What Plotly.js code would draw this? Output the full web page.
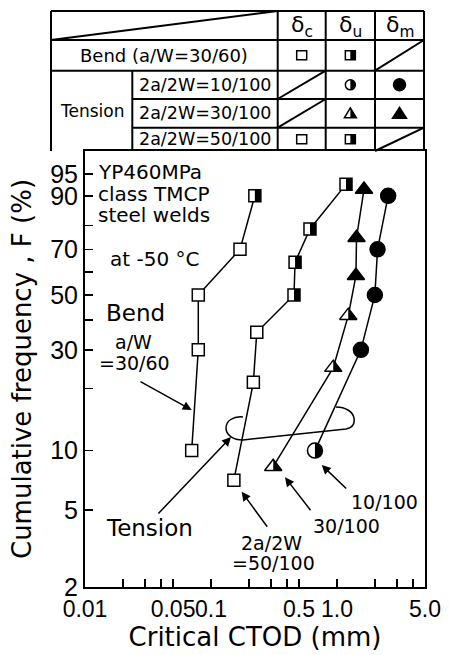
<!DOCTYPE html>
<html><head><meta charset="utf-8">
<script src="https://cdn.plot.ly/plotly-3.0.1.min.js"></script>
<style>html,body{margin:0;padding:0;background:#fff}#chart{width:449px;height:655px}</style>
</head><body><div id="chart"></div>
<script>
// ---------------- data ----------------
// Bend, a/W = 30/60   (kind: c = delta_c, u = delta_u, m = delta_m)
const bendCTOD = [0.0703, 0.0793, 0.0793, 0.170, 0.223];
const bendFreq = [10, 30, 50, 70, 90];
const bendKind = ['c', 'c', 'c', 'c', 'u'];
// Tension, 2a/2W = 50/100
const t50CTOD = [0.152, 0.217, 0.231, 0.456, 0.465, 0.611, 1.18];
const t50Freq = [7.1, 21.4, 35.7, 50, 64.3, 78.6, 92.9];
const t50Kind = ['c', 'c', 'c', 'u', 'u', 'u', 'u'];
// Tension, 2a/2W = 30/100
const t30CTOD = [0.312, 0.935, 1.23, 1.415, 1.43, 1.64];
const t30Freq = [8.3, 25, 41.7, 58.3, 75, 91.7];
const t30Kind = ['u', 'u', 'u', 'm', 'm', 'm'];
// Tension, 2a/2W = 10/100
const t10CTOD = [0.669, 1.55, 2.00, 2.10, 2.55];
const t10Freq = [10, 30, 50, 70, 90];
const t10Kind = ['u', 'm', 'm', 'm', 'm'];

// axis ticks
const xTickVals = [0.01, 0.02, 0.03, 0.04, 0.05, 0.1, 0.2, 0.3, 0.4, 0.5, 1, 2, 3, 4, 5];
const xTickText = ['0.01', '', '', '', '0.05', '0.1', '', '', '', '0.5', '1.0', '', '', '', '5.0'];
const yTickVals = [2, 5, 10, 20, 30, 40, 50, 60, 70, 80, 90, 95];
const yTickText = ['2', '5', '10', '', '30', '', '50', '', '70', '', '90', '95'];

// ---------------- helpers ----------------
// Weibull probability scale: ln(-ln(1-F))
const W = f => Math.log(-Math.log(1 - f / 100));
const L = 85, R = 425, T = 151, B = 587;           // plot area in page pixels
const PX = x => (x - L) / (R - L);
const PY = y => (B - y) / (B - T);
const TXT = 'DejaVu Sans', NUM = 'Liberation Sans';

const series = [
  {name: 'Bend (a/W=30/60)', x: bendCTOD, f: bendFreq, k: bendKind, sym: 'square', size: 12},
  {name: 'Tension 2a/2W=50/100', x: t50CTOD, f: t50Freq, k: t50Kind, sym: 'square', size: 12},
  {name: 'Tension 2a/2W=30/100', x: t30CTOD, f: t30Freq, k: t30Kind, sym: 'triangle-up', size: 15},
  {name: 'Tension 2a/2W=10/100', x: t10CTOD, f: t10Freq, k: t10Kind, sym: 'circle', size: 15}
];

const traces = series.map(s => ({
  type: 'scatter', mode: 'lines+markers', name: s.name,
  x: s.x, y: s.f.map(W),
  line: {color: 'black', width: 1.5},
  marker: {symbol: s.sym, size: s.size,
           color: s.k.map(k => k === 'm' ? 'black' : 'white'),
           line: {color: 'black', width: 1.5}},
  showlegend: false, hoverinfo: 'skip', cliponaxis: false
}));

function halfPath(sym, r) {
  if (sym === 'square') return `M0,${-r} L${r},${-r} L${r},${r} L0,${r} Z`;
  if (sym === 'circle') {
    const k = 0.5523 * r;
    return `M0,${r} C${k},${r} ${r},${k} ${r},0 C${r},${-k} ${k},${-r} 0,${-r} Z`;
  }
  const rt = r * 2 / Math.sqrt(3);
  return `M0,${r} L${rt},${-r / 2} L0,${-r / 2} Z`;
}

const shapes = [];
// half-filled (delta_u) markers in the plot
series.forEach(s => {
  s.k.forEach((k, i) => {
    if (k !== 'u') return;
    shapes.push({type: 'path', xref: 'x', yref: 'y', xsizemode: 'pixel', ysizemode: 'pixel',
      xanchor: s.x[i], yanchor: W(s.f[i]), path: halfPath(s.sym, s.size / 2),
      fillcolor: 'black', line: {width: 0}, layer: 'above'});
  });
});

// ---------------- table above the plot ----------------
const tl = (x0, y0, x1, y1) => shapes.push({type: 'line', xref: 'paper', yref: 'paper',
  x0: PX(x0), y0: PY(y0), x1: PX(x1), y1: PY(y1), line: {color: 'black', width: 2}});
const TX0 = 51, TX1 = 424, TY0 = 11, TY1 = 151;
const cA = 132.3, cB = 277.7, cC = 325.7, cD = 375;
const r0 = 40, r1 = 70.7, r2 = 99, r3 = 127.7;
tl(TX0, TY0, TX1, TY0); tl(TX0, TY0, TX0, TY1); tl(TX1, TY0, TX1, TY1);
tl(TX0, r0, TX1, r0); tl(TX0, r1, TX1, r1); tl(cA, r2, TX1, r2); tl(cA, r3, TX1, r3);
tl(cA, r1, cA, TY1); tl(cB, TY0, cB, TY1); tl(cC, TY0, cC, TY1); tl(cD, TY0, cD, TY1);
// diagonals (empty cells / header)
tl(TX0, r0, cB, TY0);
tl(cD, r1, TX1, r0);
tl(cB, r2, cC, r1);
tl(cB, r3, cC, r2);
tl(cD, TY1, TX1, r3);

const colC = (cB + cC) / 2, colU = (cC + cD) / 2, colM = (cD + TX1) / 2;
const rowBend = (r0 + r1) / 2, row10 = (r1 + r2) / 2, row30 = (r2 + r3) / 2, row50 = (r3 + TY1) / 2;

function tabMarker(sym, fill, cx, cy) {
  const base = {xref: 'paper', yref: 'paper', xsizemode: 'pixel', ysizemode: 'pixel',
    xanchor: PX(cx), yanchor: PY(cy), layer: 'above'};
  const white = fill === 'm' ? 'black' : 'white';
  if (sym === 'square') {
    shapes.push(Object.assign({}, base, {type: 'rect', x0: -5, x1: 5, y0: -4.5, y1: 4.5,
      fillcolor: white, line: {color: 'black', width: 1.5}}));
    if (fill === 'u') shapes.push(Object.assign({}, base, {type: 'rect', x0: 0, x1: 5, y0: -4.5, y1: 4.5,
      fillcolor: 'black', line: {width: 0}}));
  } else if (sym === 'circle') {
    const r = fill === 'm' ? 6 : 5;
    shapes.push(Object.assign({}, base, {type: 'circle', x0: -r, x1: r, y0: -r, y1: r,
      fillcolor: white, line: {color: 'black', width: 1.5}}));
    if (fill === 'u') shapes.push(Object.assign({}, base, {type: 'path', path: halfPath('circle', r),
      fillcolor: 'black', line: {width: 0}}));
  } else {
    const h = fill === 'm' ? 6 : 5.5, w = fill === 'm' ? 7 : 6, b = fill === 'm' ? -5 : -4.5;
    shapes.push(Object.assign({}, base, {type: 'path', path: `M0,${h} L${w},${b} L${-w},${b} Z`,
      fillcolor: white, line: {color: 'black', width: 1.5}}));
    if (fill === 'u') shapes.push(Object.assign({}, base, {type: 'path', path: `M0,${h} L${w},${b} L0,${b} Z`,
      fillcolor: 'black', line: {width: 0}}));
  }
}
tabMarker('square', 'c', colC, rowBend);
tabMarker('square', 'u', colU, rowBend);
tabMarker('circle', 'u', colU, row10);
tabMarker('circle', 'm', colM, row10);
tabMarker('triangle', 'u', colU, row30);
tabMarker('triangle', 'm', colM, row30);
tabMarker('square', 'c', colC, row50);
tabMarker('square', 'u', colU, row50);

// lasso loop grouping the tension curves
const P = (x, y) => `${PX(x)},${PY(y)}`;
shapes.push({type: 'path', xref: 'paper', yref: 'paper', layer: 'above',
  path: `M${P(243, 417)} C${P(233, 416)} ${P(226, 421)} ${P(226, 428)} C${P(226, 435)} ${P(233, 440)} ${P(243, 440)} ` +
        `L${P(346, 429)} C${P(352, 428)} ${P(355, 424)} ${P(354, 418)} C${P(353, 412)} ${P(346, 407)} ${P(336, 407)}`,
  fillcolor: 'rgba(0,0,0,0)', line: {color: 'black', width: 1.5}});

// ---------------- annotations ----------------
const annotations = [];
const txt = (t, x, y, size, anchor, fam) => annotations.push({text: t, xref: 'paper', yref: 'paper',
  x: PX(x), y: PY(y), xanchor: anchor || 'center', yanchor: 'middle', showarrow: false,
  font: {family: fam || TXT, size: size, color: 'black'}});
// table text
txt('Bend (a/W=30/60)', (TX0 + cB) / 2, rowBend, 18);
txt('Tension', (TX0 + cA) / 2, (r1 + TY1) / 2, 17);
txt('2a/2W=10/100', (cA + cB) / 2, row10, 17.5);
txt('2a/2W=30/100', (cA + cB) / 2, row30, 17.5);
txt('2a/2W=50/100', (cA + cB) / 2, row50, 17.5);
txt('δ<sub>c</sub>', colC, 26, 22);
txt('δ<sub>u</sub>', colU, 26, 22);
txt('δ<sub>m</sub>', colM, 26, 22);
// plot text
txt('YP460MPa', 96, 172, 20, 'left');
txt('class TMCP', 96, 194, 20, 'left');
txt('steel welds', 96, 215, 20, 'left');
txt('at -50 °C', 154, 259, 20);
txt('Bend', 135.5, 313, 23);
txt('a/W', 133, 341.5, 19);
txt('=30/60', 134, 363, 19);
txt('Tension', 149, 528, 23);
txt('10/100', 384, 501.5, 19);
txt('30/100', 346, 526, 19);
txt('2a/2W', 271.5, 543, 19);
txt('=50/100', 273, 563, 19);
// arrows: tip -> tail
const arrow = (tx, ty, sx, sy) => annotations.push({text: '', xref: 'paper', yref: 'paper',
  x: PX(tx), y: PY(ty), ax: sx - tx, ay: sy - ty, showarrow: true,
  arrowhead: 2, arrowsize: 1.2, arrowwidth: 1.5, arrowcolor: 'black', standoff: 0});
arrow(191.7, 410, 139, 380.7);
arrow(231, 437, 157, 515);
arrow(321.7, 465, 347.7, 490);
arrow(285, 477.3, 311.7, 511.7);
arrow(241.7, 491.7, 268.3, 528.3);

const axisCommon = {ticks: 'inside', ticklen: 8, tickwidth: 1.5, tickcolor: 'black',
  showline: true, linewidth: 2, linecolor: 'black', mirror: true, showgrid: false,
  zeroline: false, automargin: false, fixedrange: true, tickangle: 0,
  tickfont: {family: NUM, size: 25, color: 'black'}};

const layout = {
  width: 449, height: 655,
  margin: {l: L, r: 449 - R, t: T, b: 655 - B, pad: 0},
  paper_bgcolor: 'white', plot_bgcolor: 'white',
  font: {family: NUM, color: 'black'},
  showlegend: false,
  xaxis: Object.assign({}, axisCommon, {type: 'log', range: [-2, Math.log10(5)],
    tickmode: 'array', tickvals: xTickVals, ticktext: xTickText,
    tickfont: {family: NUM, size: 23, color: 'black'},
    title: {text: 'Critical CTOD (mm)', font: {family: TXT, size: 26, color: 'black'}, standoff: 5}}),
  yaxis: Object.assign({}, axisCommon, {type: 'linear', range: [W(2), W(2) + (B - T) / 82.6],
    tickmode: 'array', tickvals: yTickVals.map(W), ticktext: yTickText,
    title: {text: 'Cumulative frequency , F (%)', font: {family: TXT, size: 26, color: 'black'}, standoff: 11}}),
  shapes: shapes,
  annotations: annotations
};

Plotly.newPlot('chart', traces, layout, {staticPlot: true, displayModeBar: false});
</script>
</body></html>
